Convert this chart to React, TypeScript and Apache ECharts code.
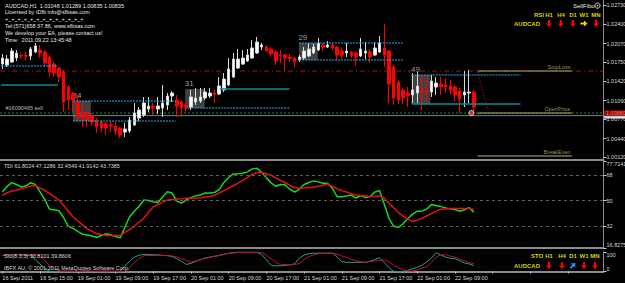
import React, { useEffect, useRef } from "react";
import * as echarts from "echarts";

// ---------------- data ----------------
const timeLabels = [
  "16 Sep 2011", "16 Sep 15:00", "19 Sep 01:00", "19 Sep 09:00", "19 Sep 17:00",
  "20 Sep 01:00", "20 Sep 09:00", "20 Sep 17:00", "21 Sep 01:00", "21 Sep 09:00",
  "21 Sep 17:00", "22 Sep 01:00", "22 Sep 09:00",
];
const labelEvery = 8;
const slotCount = 128;

const priceTicks = [1.0012, 1.0044, 1.0077, 1.0109, 1.0142, 1.0175, 1.0207, 1.024, 1.0273];
const priceMin = 1.00083;
const priceMax = 1.02816;
const tdiTicks = [16.8275, 32, 50, 68, 77.7141];
const tdiLevels = [68, 50, 32];
const stoTicks = [0, 100];

const opens = [
  1.01719, 1.01702, 1.01754, 1.01822, 1.01865, 1.01865, 1.01856, 1.01925, 1.01959, 1.01925,
  1.01839, 1.01719, 1.01651, 1.01582, 1.01325, 1.01222, 1.01068, 1.0088, 1.0088, 1.00828,
  1.0076, 1.00725, 1.00691, 1.00674, 1.00657, 1.00622, 1.00554, 1.00571, 1.00674, 1.00794,
  1.00845, 1.00948, 1.00999, 1.00948, 1.00965, 1.01017, 1.01171, 1.01102, 1.01068, 1.01017,
  1.00982, 1.01068, 1.01085, 1.01137, 1.01171, 1.01222, 1.01205, 1.01274, 1.01359, 1.01496,
  1.01651, 1.01719, 1.01771, 1.01822, 1.01908, 1.02011, 1.02011, 1.01976, 1.01925, 1.01873,
  1.01873, 1.01839, 1.01822, 1.01788, 1.01822, 1.01856, 1.01908, 1.01959, 1.02045, 1.02011,
  1.02045, 1.02011, 1.01942, 1.01908, 1.01925, 1.01908, 1.01856, 1.01908, 1.01925, 1.01873,
  1.01925, 1.01993, 1.01942, 1.01668, 1.01411, 1.01274, 1.01222, 1.01188, 1.01222, 1.01274,
  1.01257, 1.01239, 1.01325, 1.01376, 1.01359, 1.01342, 1.01325, 1.01257, 1.01188, 1.01222,
  1.01239,
];
const closes = [
  1.01822, 1.01805, 1.01942, 1.01908, 1.01856, 1.01853, 1.01976, 1.02028, 1.01908, 1.01736,
  1.01582, 1.01565, 1.01496, 1.01068, 1.01102, 1.01102, 1.00811, 1.00794, 1.0076, 1.00725,
  1.0064, 1.00622, 1.00622, 1.00657, 1.00571, 1.00503, 1.00605, 1.0076, 1.0088, 1.00931,
  1.01051, 1.00999, 1.00965, 1.00999, 1.01051, 1.01171, 1.01222, 1.00999, 1.00965, 1.00982,
  1.01154, 1.01137, 1.01154, 1.01239, 1.01222, 1.01196, 1.01342, 1.01462, 1.01634, 1.01805,
  1.01805, 1.01822, 1.01873, 1.01993, 1.02096, 1.02045, 1.01942, 1.01891, 1.01771, 1.01856,
  1.01822, 1.01813, 1.01754, 1.01839, 1.01942, 1.01976, 1.02011, 1.02079, 1.02011, 1.02045,
  1.01993, 1.01873, 1.01873, 1.01942, 1.01856, 1.01839, 1.01976, 1.01942, 1.01839, 1.01993,
  1.02079, 1.01873, 1.01376, 1.01137, 1.01102, 1.01137, 1.01171, 1.01274, 1.01342, 1.01239,
  1.01239, 1.01428, 1.01394, 1.01325, 1.01325, 1.01274, 1.01188, 1.01119, 1.01239, 1.01239,
  1.00982,
];
const lows = [
  1.01634, 1.01668, 1.01736, 1.01771, 1.01805, 1.01771, 1.01788, 1.01908, 1.01822, 1.01668,
  1.01496, 1.01496, 1.01411, 1.00897, 1.00931, 1.00897, 1.0076, 1.0064, 1.0064, 1.00674,
  1.00537, 1.00554, 1.00503, 1.00554, 1.00503, 1.00451, 1.00468, 1.00537, 1.00657, 1.00742,
  1.00811, 1.00897, 1.00845, 1.00862, 1.00811, 1.00931, 1.01068, 1.00811, 1.00845, 1.0088,
  1.00931, 1.01017, 1.01051, 1.01102, 1.01137, 1.01051, 1.01188, 1.01239, 1.01342, 1.01479,
  1.01634, 1.01702, 1.01754, 1.01805, 1.01891, 1.01959, 1.01925, 1.01839, 1.01702, 1.01736,
  1.01599, 1.01754, 1.01668, 1.01754, 1.01788, 1.01839, 1.01891, 1.01942, 1.01942, 1.01993,
  1.01959, 1.01788, 1.01805, 1.01839, 1.01822, 1.01685, 1.01839, 1.01805, 1.01736, 1.01856,
  1.01908, 1.01668, 1.01051, 1.01017, 1.01034, 1.01034, 1.00982, 1.01051, 1.01051, 1.00931,
  1.01017, 1.01154, 1.01188, 1.01188, 1.01222, 1.01188, 1.01068, 1.0088, 1.00982, 1.01051,
  1.0088,
];
const highs = [
  1.01891, 1.01873, 1.01993, 1.01959, 1.01908, 1.01925, 1.02011, 1.02079, 1.02045, 1.01959,
  1.01873, 1.01754, 1.01668, 1.01616, 1.01359, 1.01239, 1.01188, 1.01068, 1.00931, 1.0088,
  1.00794, 1.0076, 1.00725, 1.00725, 1.00725, 1.0064, 1.00708, 1.00811, 1.01051, 1.00982,
  1.01154, 1.01154, 1.01051, 1.01154, 1.01359, 1.01222, 1.01257, 1.01188, 1.01102, 1.01051,
  1.01274, 1.01308, 1.01308, 1.01308, 1.01308, 1.01274, 1.01496, 1.01565, 1.01822, 1.01908,
  1.01976, 1.01959, 1.01976, 1.02131, 1.02182, 1.02079, 1.02045, 1.02011, 1.01959, 1.01959,
  1.01908, 1.01891, 1.01839, 1.01873, 1.02011, 1.02079, 1.02062, 1.02165, 1.02079, 1.02113,
  1.02079, 1.02028, 1.01993, 1.02079, 1.01942, 1.01925, 1.02165, 1.02096, 1.01976, 1.02096,
  1.02199, 1.02405, 1.01959, 1.01702, 1.01445, 1.01308, 1.01325, 1.01565, 1.01582, 1.01531,
  1.01496, 1.01531, 1.01496, 1.01496, 1.01479, 1.01445, 1.01359, 1.01308, 1.01599, 1.01616,
  1.01274,
];

const tdiPrice = [
  56.0, 59.9, 62.6, 61.3, 59.5, 60.2, 62.5, 61.3, 56.1, 50.6,
  44.0, 43.6, 42.9, 38.0, 32.0, 30.6, 28.5, 26.4, 25.9, 25.2,
  24.2, 25.6, 26.8, 26.1, 24.9, 23.9, 31.5, 38.7, 42.6, 46.1,
  50.4, 50.0, 49.2, 48.6, 52.5, 56.2, 55.3, 49.6, 48.2, 50.4,
  52.1, 53.3, 53.9, 55.3, 55.3, 55.6, 57.8, 62.7, 66.2, 68.7,
  68.7, 69.1, 70.1, 72.2, 72.6, 69.8, 65.9, 62.4, 60.0, 61.3,
  60.9, 57.8, 56.0, 58.1, 61.3, 62.7, 63.8, 63.1, 62.1, 62.1,
  58.5, 52.7, 52.7, 53.2, 53.9, 51.8, 53.5, 52.1, 52.8, 56.0,
  57.1, 47.5, 37.6, 32.0, 31.3, 33.8, 37.5, 40.5, 42.6, 42.6,
  44.0, 47.2, 46.5, 45.8, 44.9, 44.2, 43.8, 42.6, 43.6, 45.1,
  41.9,
];
const tdiSignal = [
  53.6, 55.5, 56.8, 57.3, 58.1, 59.1, 60.1, 60.6, 58.8, 57.2,
  54.9, 52.8, 50.4, 46.5, 42.6, 38.7, 35.9, 33.0, 30.2, 28.5,
  26.8, 26.3, 25.6, 25.6, 25.5, 25.6, 27.8, 29.9, 32.2, 35.0,
  37.6, 41.9, 45.6, 47.3, 48.9, 50.4, 50.7, 51.1, 51.3, 51.6,
  51.7, 51.8, 52.0, 52.5, 52.9, 53.7, 55.3, 57.0, 58.7, 60.4,
  62.2, 64.1, 66.3, 68.5, 69.6, 69.8, 68.8, 67.6, 65.8, 64.1,
  62.5, 60.6, 59.2, 58.5, 58.8, 59.2, 59.5, 60.0, 60.7, 61.4,
  60.0, 58.3, 57.0, 56.0, 54.9, 53.9, 53.5, 53.2, 52.9, 52.8,
  53.2, 51.8, 48.2, 45.1, 41.7, 39.2, 37.1, 35.5, 36.3, 37.6,
  39.2, 40.9, 42.6, 43.9, 44.2, 44.5, 44.5, 44.5, 44.5, 44.5,
  43.7,
];

const stoMain = [
  82, 86, 88, 86, 85, 83, 82, 60, 38, 15,
  1, 0, 0, 1, 2, 1, 0, 2, 3, 1,
  0, 1, 2, 0, 1, 1, 29, 53, 74, 83,
  88, 87, 86, 85, 83, 81, 77, 65, 52, 36,
  42, 52, 61, 69, 74, 78, 82, 88, 94, 97,
  100, 100, 100, 100, 98, 88, 60, 31, 29, 29,
  31, 34, 40, 69, 84, 91, 94, 94, 94, 94,
  94, 74, 51, 47, 47, 47, 47, 47, 53, 61,
  71, 45, 21, 0, 0, 0, 6, 14, 21, 32,
  50, 68, 97, 85, 74, 68, 66, 55, 44, 39,
  30.8,
];
const stoSignal = [
  82, 84, 86, 87, 88, 86, 85, 83, 81, 59,
  29, 14, 4, 1, 1, 1, 1, 1, 2, 2,
  1, 1, 1, 1, 1, 1, 1, 21, 45, 66,
  81, 82, 82, 82, 82, 82, 80, 74, 66, 56,
  48, 54, 60, 67, 72, 78, 83, 89, 94, 95,
  97, 97, 97, 97, 99, 99, 82, 66, 47, 35,
  35, 35, 35, 41, 62, 76, 85, 91, 93, 94,
  94, 88, 80, 73, 63, 55, 50, 47, 51, 54,
  56, 59, 50, 32, 19, 9, 3, 2, 8, 17,
  25, 47, 74, 85, 86, 79, 74, 63, 55, 46,
  39.9,
];

const stopLoss = 1.01599;
const openPrice = 1.0088;
const bidPrice = 1.00835;
const breakEven = 1.00143;

// pattern boxes (bar units / prices)
const boxLabels = ["34", "31", "29", "49"];
const boxStart = [14.97, 38.8, 62.9, 86.8];
const boxEnd = [18.78, 42.9, 66.9, 90.8];
const boxTop = [1.01085, 1.01291, 1.02079, 1.01531];
const boxBottom = [1.00742, 1.00965, 1.01788, 1.01034];

// horizontal pattern lines: [startBar, endBar, price, bright?]
const patternLines: [number, number, number, boolean][] = [
  [-0.3, 11.8, 1.01685, true],
  [-0.3, 11.8, 1.01359, false],
  [14.97, 36.8, 1.01085, true],
  [14.97, 36.8, 1.00742, true],
  [46.1, 60.9, 1.01291, false],
  [38.8, 60.9, 1.00965, true],
  [62.9, 84.9, 1.02079, true],
  [62.9, 84.9, 1.01788, true],
  [86.8, 109.9, 1.01531, true],
  [86.8, 109.9, 1.01034, false],
];

const levelNames = ["StopLoss", "OpenPrice", "BreakEven"];
const levelPrices = [stopLoss, openPrice, breakEven];
const levelSpan = [100.8, 120.8];
const slTrend = [[100.8, 1.01582], [103.1, 1.00897]];
const orderBar = 99.5;
const orderText = "#16090465 sell";

const headerLines = [
  "AUDCAD,H1  1.01048 1.01289 1.00835 1.00835",
  "Licensed by tDfb info@sfbsas.com",
  "+_+_+_+_+_+_+_+_+_+_+_+_+",
  "Tel:(571)658 37 86, www.sfbsas.com",
  "We develop your EA, please contact us!",
  "Time:  2011.09.22 13:45:48",
];
const tdiTitle = "TDI 61.8024 47.1286 32.4549 41.9142 43.7385";
const stoTitle = "Sto(8,3,3) 30.8101 39.8606";
const copyright = "IBFX AU, \u00a9 2001-2011 MetaQuotes Software Corp.";
const tfLabels = ["H1", "H4", "D1", "W1", "MN"];
const rsiTrend = ["down", "down", "down", "right", "down"];
const stoTrend = ["down", "down", "upright", "down", "down"];
const symbolName = "AUDCAD";

// ---------------- chart ----------------
const FONT = "'Liberation Sans', Arial, sans-serif";
const FS = 5.5;
const AXIS = "#8c8c8c";
const LBL = "#d8d8d8";
const X_LEFT = -0.5;
const X_RIGHT = slotCount - 0.5;

function arrowPoints(kind: string) {
  if (kind === "right")
    return [[-3.5, -1], [0, -1], [0, -3], [3.5, 0], [0, 3], [0, 1], [-3.5, 1]];
  if (kind === "upright")
    return [[-3.18, 1.77], [-1.77, 3.18], [0.71, 0.71], [2.12, 2.12], [2.47, -2.47], [-2.12, -2.12], [-0.71, -0.71]];
  return [[-1, -3.5], [1, -3.5], [1, 0], [3, 0], [0, 3.5], [-3, 0], [-1, 0]];
}
function arrowColor(kind: string) {
  if (kind === "right") return "#e8d800";
  if (kind === "upright") return "#1e90ff";
  return "#ff0000";
}

function txt(x: number, y: number, text: string, fill = "#e6e6e6", align = "left", size = FS, weight = "normal") {
  return {
    type: "text",
    x,
    y,
    silent: true,
    z: 100,
    style: {
      text,
      fill,
      fontSize: size,
      fontFamily: FONT,
      fontWeight: weight,
      align,
      verticalAlign: "middle",
      textAlign: align,
      textVerticalAlign: "middle",
    },
  };
}

function hLine(price: number, x0: number, x1: number, lineStyle: any, z = 6) {
  return {
    type: "line",
    xAxisIndex: 3,
    yAxisIndex: 0,
    data: [[x0, price], [x1, price]],
    symbol: "none",
    silent: true,
    z,
    lineStyle,
  };
}

function buildOption() {
  const cats = Array.from({ length: slotCount }, (_, i) => String(i));
  const candles = opens.map((o, i) => [o, closes[i], lows[i], highs[i]]);
  const gridBase = { left: 0, right: 21.5, containLabel: false, outerBoundsMode: "none" };

  const hiddenCat = (gridIndex: number) => ({
    type: "category",
    gridIndex,
    data: cats,
    boundaryGap: true,
    axisLine: { show: true, onZero: false, lineStyle: { color: AXIS, width: 2 } },
    axisTick: { show: false },
    axisLabel: { show: false },
    splitLine: { show: false },
  });

  const yAx = (gridIndex: number, min: number, max: number, ticks: number[], fmt: (v: number) => string, edge: boolean) => ({
    type: "value",
    gridIndex,
    position: "right",
    min,
    max,
    splitLine: { show: false },
    axisLine: { show: true, onZero: false, lineStyle: { color: AXIS, width: 1 } },
    axisTick: { show: true, customValues: ticks, length: 3, inside: false, lineStyle: { color: "#c8c8c8" } },
    axisLabel: {
      show: true,
      customValues: ticks,
      formatter: fmt,
      color: LBL,
      fontSize: FS,
      fontFamily: FONT,
      margin: 3,
      ...(edge ? { verticalAlignMinLabel: "bottom", verticalAlignMaxLabel: "top" } : {}),
    },
  });

  const series: any[] = [];

  // pattern boxes + labels
  series.push({
    type: "scatter",
    xAxisIndex: 3,
    yAxisIndex: 0,
    symbolSize: 1,
    silent: true,
    z: 2,
    itemStyle: { color: "rgba(0,0,0,0)" },
    data: boxLabels.map((l, i) => ({ value: [boxStart[i], boxTop[i]], label: { formatter: l } })),
    label: { show: true, position: [0, -9], color: "#c8c8c8", fontSize: 8, fontFamily: FONT },
    markArea: {
      silent: true,
      itemStyle: { color: "rgba(130,130,130,0.5)" },
      data: boxLabels.map((_, i) => [
        { coord: [boxStart[i], boxTop[i]] },
        { coord: [boxEnd[i], boxBottom[i]] },
      ]),
    },
  });

  // full-width price levels
  series.push(hLine(stopLoss, X_LEFT, X_RIGHT, { color: "#a01818", type: [5, 3, 1, 3], width: 1 }, 3));
  series.push(hLine(openPrice, X_LEFT, X_RIGHT, { color: "#2e8b2e", type: [2, 2], width: 1 }, 3));
  series.push(hLine(bidPrice, X_LEFT, X_RIGHT, { color: "#6f7f98", type: "solid", width: 1 }, 3));

  // candles
  series.push({
    type: "candlestick",
    xAxisIndex: 0,
    yAxisIndex: 0,
    data: candles,
    barWidth: 3,
    z: 5,
    itemStyle: {
      color: "#ffffff",
      color0: "#ff0000",
      borderColor: "#d8d8d8",
      borderColor0: "#ff0000",
      borderWidth: 1,
    },
  });

  // axis price tags: bid (white bar) then open price (red box) on top
  series.push({
    type: "scatter",
    xAxisIndex: 3,
    yAxisIndex: 0,
    silent: true,
    clip: false,
    z: 20,
    symbol: "rect",
    symbolSize: [22, 3],
    symbolOffset: [11.5, 1.5],
    itemStyle: { color: "#ffffff" },
    data: [[X_RIGHT, bidPrice]],
  });
  series.push({
    type: "scatter",
    xAxisIndex: 3,
    yAxisIndex: 0,
    symbolSize: 1,
    silent: true,
    clip: false,
    z: 21,
    itemStyle: { color: "rgba(0,0,0,0)" },
    data: [
      {
        value: [X_RIGHT, openPrice],
        label: { formatter: openPrice.toFixed(5), backgroundColor: "#cc0000", color: "#ff9a9a" },
      },
    ],
    label: { show: true, position: "right", distance: 0, fontSize: FS, lineHeight: 5.2, fontFamily: FONT, padding: [0, 2, 0, 2] },
  });

  // pattern lines
  patternLines.forEach(([x0, x1, p, bright]) => {
    series.push(
      hLine(
        p,
        x0,
        x1,
        bright ? { color: "#1cb4e8", width: 1, type: [2, 1] } : { color: "#0b8a94", width: 1.5, type: "solid" }
      )
    );
  });

  // level tag lines + names
  levelNames.forEach((_, i) => {
    series.push(hLine(levelPrices[i], levelSpan[0], levelSpan[1], { color: "#7c7c3a", width: 1.5 }));
  });
  series.push({
    type: "scatter",
    xAxisIndex: 3,
    yAxisIndex: 0,
    symbolSize: 1,
    silent: true,
    z: 7,
    itemStyle: { color: "rgba(0,0,0,0)" },
    data: levelNames.map((n, i) => ({ value: [levelSpan[1], levelPrices[i]], label: { formatter: n } })),
    label: { show: true, position: "left", distance: 1, offset: [0, -4], color: "#c4b87a", fontSize: FS, fontFamily: FONT },
  });

  // stop-loss trend line
  series.push({
    type: "line",
    xAxisIndex: 3,
    yAxisIndex: 0,
    data: slTrend,
    symbol: "none",
    silent: true,
    z: 6,
    lineStyle: { color: "#e02020", width: 1, type: [1, 2] },
  });

  // order marker and text
  series.push({
    type: "scatter",
    xAxisIndex: 3,
    yAxisIndex: 0,
    silent: true,
    z: 8,
    data: [[orderBar, openPrice]],
    symbol: "circle",
    symbolSize: 5,
    itemStyle: { color: "#ff3030", borderColor: "#ffffff", borderWidth: 1 },
  });
  series.push({
    type: "scatter",
    xAxisIndex: 3,
    yAxisIndex: 0,
    silent: true,
    z: 8,
    symbolSize: 1,
    itemStyle: { color: "rgba(0,0,0,0)" },
    data: [{ value: [0.77, openPrice], label: { formatter: orderText } }],
    label: { show: true, position: [0, -7.5], color: "#e0e0e0", fontSize: FS, fontFamily: FONT },
  });

  // TDI
  series.push({
    type: "line",
    xAxisIndex: 1,
    yAxisIndex: 1,
    data: tdiPrice,
    symbol: "none",
    silent: true,
    z: 4,
    lineStyle: { color: "#19d919", width: 1.5 },
    markLine: {
      silent: true,
      symbol: "none",
      label: { show: false },
      lineStyle: { color: "#5c5c5c", type: [3, 3], width: 1 },
      data: tdiLevels.map((v) => ({ yAxis: v })),
    },
  });
  series.push({
    type: "line",
    xAxisIndex: 1,
    yAxisIndex: 1,
    data: tdiSignal,
    symbol: "none",
    silent: true,
    z: 4,
    lineStyle: { color: "#e81010", width: 1.5 },
  });

  // Stochastic
  series.push({
    type: "line",
    xAxisIndex: 2,
    yAxisIndex: 2,
    data: stoMain,
    symbol: "none",
    silent: true,
    lineStyle: { color: "#20a0a0", width: 1 },
  });
  series.push({
    type: "line",
    xAxisIndex: 2,
    yAxisIndex: 2,
    data: stoSignal,
    symbol: "none",
    silent: true,
    lineStyle: { color: "#c81028", width: 1 },
  });

  // graphics (static texts)
  const graphic: any[] = [];
  const headerY = [5.7, 12.3, 19, 26, 33, 40];
  headerLines.forEach((l, i) => graphic.push(txt(5, headerY[i], l)));
  graphic.push(txt(4, 165.7, tdiTitle, "#d8d8d8"));
  graphic.push(txt(4, 255.5, stoTitle, "#d8d8d8"));
  graphic.push(txt(4, 268.3, copyright, "#d8d8d8"));

  // top right legend
  graphic.push(txt(573, 5.6, "SellFibo", "#e8e8e8", "left", 6));
  graphic.push({
    type: "circle", silent: true, z: 100,
    shape: { cx: 597.5, cy: 5.6, r: 2.6 },
    style: { fill: "none", stroke: "#e0e0e0", lineWidth: 1 },
  });
  graphic.push({
    type: "circle", silent: true, z: 100,
    shape: { cx: 597.5, cy: 5.6, r: 0.8 },
    style: { fill: "#e0e0e0" },
  });
  const topCols = [549, 561, 573, 584, 596];
  const botCols = [549, 562, 573, 584, 595];
  const YEL = "#d8d400";
  graphic.push(txt(539, 15, "RSI", YEL, "center", 6, "bold"));
  graphic.push(txt(540, 24, symbolName, YEL, "right", 6, "bold"));
  tfLabels.forEach((l, i) => {
    graphic.push(txt(topCols[i], 15, l, YEL, "center", 6, "bold"));
    graphic.push({
      type: "polygon", silent: true, z: 100, x: topCols[i], y: 23.5,
      shape: { points: arrowPoints(rsiTrend[i]) },
      style: { fill: arrowColor(rsiTrend[i]) },
    });
  });
  graphic.push(txt(537, 256.3, "STO", YEL, "center", 6, "bold"));
  graphic.push(txt(540, 265.5, symbolName, YEL, "right", 6, "bold"));
  tfLabels.forEach((l, i) => {
    graphic.push(txt(botCols[i], 256.3, l, YEL, "center", 6, "bold"));
    graphic.push({
      type: "polygon", silent: true, z: 100, x: botCols[i], y: 265.5,
      shape: { points: arrowPoints(stoTrend[i]) },
      style: { fill: arrowColor(stoTrend[i]) },
    });
  });

  return {
    animation: false,
    backgroundColor: "#000000",
    textStyle: { fontFamily: FONT },
    grid: [
      { ...gridBase, top: 0, height: 159.5 },
      { ...gridBase, top: 161, height: 87 },
      { ...gridBase, top: 252, height: 19.5 },
    ],
    xAxis: [
      hiddenCat(0),
      hiddenCat(1),
      {
        ...hiddenCat(2),
        axisTick: { show: true, interval: labelEvery - 1, alignWithLabel: true, length: 2, lineStyle: { color: "#c8c8c8" } },
        axisLabel: {
          show: true,
          interval: labelEvery - 1,
          formatter: (_v: string, i: number) => timeLabels[i / labelEvery] ?? "",
          color: LBL,
          fontSize: FS,
          fontFamily: FONT,
          align: "left",
          margin: 3,
        },
      },
      { type: "value", gridIndex: 0, min: X_LEFT, max: X_RIGHT, show: false, axisLine: { onZero: false } },
    ],
    yAxis: [
      yAx(0, priceMin, priceMax, priceTicks, (v: number) => v.toFixed(5), false),
      yAx(1, 16.8275, 77.7141, tdiTicks, (v: number) => (Number.isInteger(v) ? String(v) : v.toFixed(4)), true),
      yAx(2, 0, 100, stoTicks, (v: number) => String(v), true),
    ],
    series,
    graphic,
  };
}

export default function App() {
  const ref = useRef<HTMLDivElement>(null);
  useEffect(() => {
    document.body.style.margin = "0";
    document.body.style.background = "#000";
    const chart = echarts.init(ref.current!, null, { renderer: "svg" });
    chart.setOption(buildOption() as any);
    return () => chart.dispose();
  }, []);
  return (
    <div
      ref={ref}
      style={{ position: "absolute", left: 0, top: 0, width: 625, height: 283, background: "#000" }}
    />
  );
}
